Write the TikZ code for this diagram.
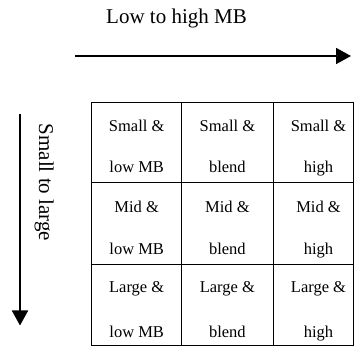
\documentclass[tikz,border=0pt]{standalone}
\usepackage{fontspec}
\setmainfont{Liberation Serif}
\usetikzlibrary{arrows.meta}
\tikzset{
  axisarrow/.style={line width=1.8pt,-{Triangle[length=15pt,width=16pt]}},
  headtext/.style={font=\fontsize{21}{25}\selectfont,inner sep=0pt},
  celltext/.style={font=\fontsize{16.5}{20}\selectfont,inner sep=0pt,anchor=base},
  gridline/.style={line width=0.9pt}
}
\begin{document}
\begin{tikzpicture}[x=1pt,y=-1pt]
\useasboundingbox (0,0) rectangle (354,347);
% axes
\coordinate (hs) at (75,56);
\coordinate (he) at (351,56);
\coordinate (vs) at (20,114);
\coordinate (ve) at (20,325.5);
\draw[axisarrow] (hs) -- (he);
\draw[axisarrow] (vs) -- (ve);
\node[headtext,anchor=base] (htxt) at (176.5,24) {Low to high MB};
\node[headtext,anchor=base,rotate=-90] (vtxt) at (39,182.5) {Small to large};
% grid
\coordinate (g00) at (91.7,102.7);
\coordinate (g11) at (353,345.7);
\draw[gridline] (g00) rectangle (g11);
\draw[gridline] (181.7,102.7) -- (181.7,345.7);
\draw[gridline] (273,102.7) -- (273,345.7);
\draw[gridline] (91.7,182) -- (353,182);
\draw[gridline] (91.7,264) -- (353,264);
% cell texts
\node[celltext] (a1) at (136.7,131.7) {Small \&};
\node[celltext] (a2) at (136.7,173) {low MB};
\node[celltext] (b1) at (227.4,131.7) {Small \&};
\node[celltext] (b2) at (227.4,173) {blend};
\node[celltext] (c1) at (318.5,131.7) {Small \&};
\node[celltext] (c2) at (318.5,173) {high};
\node[celltext] (d1) at (136.7,213) {Mid \&};
\node[celltext] (d2) at (136.7,255) {low MB};
\node[celltext] (e1) at (227.4,213) {Mid \&};
\node[celltext] (e2) at (227.4,255) {blend};
\node[celltext] (f1) at (318.5,213) {Mid \&};
\node[celltext] (f2) at (318.5,255) {high};
\node[celltext] (g1) at (136.7,292.5) {Large \&};
\node[celltext] (g2) at (136.7,337.5) {low MB};
\node[celltext] (h1) at (227.4,292.5) {Large \&};
\node[celltext] (h2) at (227.4,337.5) {blend};
\node[celltext] (i1) at (318.5,292.5) {Large \&};
\node[celltext] (i2) at (318.5,337.5) {high};
\end{tikzpicture}
\end{document}
